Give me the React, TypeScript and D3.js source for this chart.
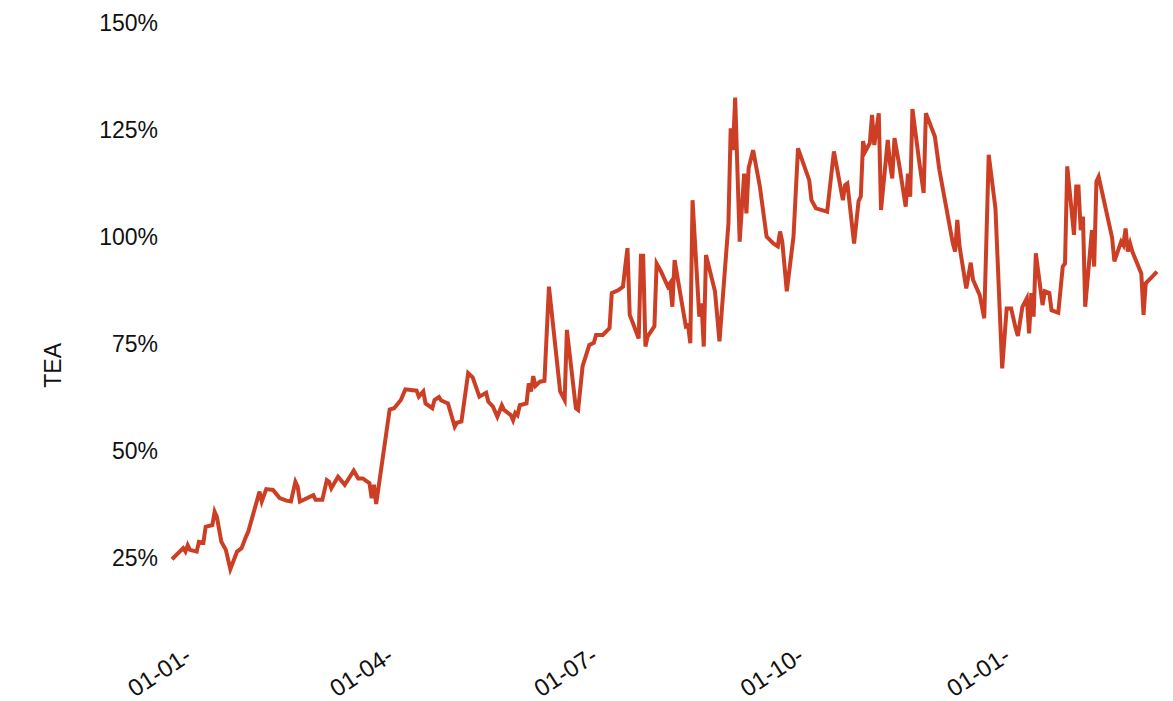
import { useEffect, useRef } from 'react'
import * as d3 from 'd3'

// TEA series
const dates = [
  '2020-12-28', '2021-01-02', '2021-01-03', '2021-01-04', '2021-01-05', '2021-01-08', '2021-01-09', '2021-01-11',
  '2021-01-12', '2021-01-15', '2021-01-16', '2021-01-17', '2021-01-19', '2021-01-21', '2021-01-23', '2021-01-26',
  '2021-01-28', '2021-01-30', '2021-01-31', '2021-02-05', '2021-02-06', '2021-02-08', '2021-02-11', '2021-02-14',
  '2021-02-17', '2021-02-19', '2021-02-21', '2021-02-22', '2021-02-23', '2021-03-01', '2021-03-02', '2021-03-05',
  '2021-03-07', '2021-03-08', '2021-03-09', '2021-03-12', '2021-03-15', '2021-03-19', '2021-03-21', '2021-03-23',
  '2021-03-26', '2021-03-27', '2021-03-28', '2021-03-29', '2021-04-04', '2021-04-06', '2021-04-09', '2021-04-11',
  '2021-04-16', '2021-04-17', '2021-04-19', '2021-04-20', '2021-04-23', '2021-04-24', '2021-04-26', '2021-04-27',
  '2021-04-30', '2021-05-03', '2021-05-04', '2021-05-06', '2021-05-09', '2021-05-11', '2021-05-14', '2021-05-17',
  '2021-05-18', '2021-05-20', '2021-05-22', '2021-05-24', '2021-05-25', '2021-05-28', '2021-05-29', '2021-05-30',
  '2021-05-31', '2021-06-01', '2021-06-04', '2021-06-05', '2021-06-06', '2021-06-07', '2021-06-08', '2021-06-10',
  '2021-06-12', '2021-06-14', '2021-06-19', '2021-06-21', '2021-06-22', '2021-06-26', '2021-06-27', '2021-06-29',
  '2021-07-02', '2021-07-04', '2021-07-05', '2021-07-08', '2021-07-11', '2021-07-12', '2021-07-15', '2021-07-17',
  '2021-07-18', '2021-07-19', '2021-07-20', '2021-07-22', '2021-07-24', '2021-07-25', '2021-07-26', '2021-07-27',
  '2021-07-28', '2021-07-31', '2021-08-01', '2021-08-03', '2021-08-06', '2021-08-07', '2021-08-08', '2021-08-09',
  '2021-08-14', '2021-08-15', '2021-08-16', '2021-08-17', '2021-08-20', '2021-08-21', '2021-08-22', '2021-08-23',
  '2021-08-27', '2021-08-29', '2021-09-02', '2021-09-03', '2021-09-04', '2021-09-05', '2021-09-07', '2021-09-09',
  '2021-09-10', '2021-09-11', '2021-09-13', '2021-09-16', '2021-09-19', '2021-09-22', '2021-09-24', '2021-09-25',
  '2021-09-26', '2021-09-28', '2021-10-01', '2021-10-03', '2021-10-08', '2021-10-09', '2021-10-11', '2021-10-16',
  '2021-10-19', '2021-10-23', '2021-10-24', '2021-10-25', '2021-10-28', '2021-10-30', '2021-10-31', '2021-11-01',
  '2021-11-02', '2021-11-04', '2021-11-05', '2021-11-06', '2021-11-08', '2021-11-09', '2021-11-12', '2021-11-13',
  '2021-11-14', '2021-11-15', '2021-11-17', '2021-11-20', '2021-11-21', '2021-11-22', '2021-11-23', '2021-11-26',
  '2021-11-28', '2021-11-29', '2021-12-03', '2021-12-05', '2021-12-11', '2021-12-12', '2021-12-13', '2021-12-14',
  '2021-12-17', '2021-12-19', '2021-12-20', '2021-12-23', '2021-12-25', '2021-12-27', '2021-12-30', '2022-01-02',
  '2022-01-04', '2022-01-06', '2022-01-08', '2022-01-09', '2022-01-11', '2022-01-13', '2022-01-14', '2022-01-15',
  '2022-01-16', '2022-01-17', '2022-01-20', '2022-01-21', '2022-01-23', '2022-01-24', '2022-01-27', '2022-01-29',
  '2022-01-30', '2022-01-31', '2022-02-03', '2022-02-04', '2022-02-05', '2022-02-06', '2022-02-07', '2022-02-08',
  '2022-02-11', '2022-02-12', '2022-02-13', '2022-02-14', '2022-02-20', '2022-02-21', '2022-02-24', '2022-02-25',
  '2022-02-26', '2022-02-27', '2022-02-28', '2022-03-01', '2022-03-05', '2022-03-06', '2022-03-07', '2022-03-10',
  '2022-03-12',
]

const teaValues = [
  24.7, 27.3, 26.5, 28.0, 26.9, 26.5, 28.8, 28.6,
  32.3, 32.7, 35.8, 34.6, 28.8, 26.9, 22.4, 26.5,
  27.3, 30.0, 31.2, 40.5, 38.2, 41.1, 40.9, 39.0,
  38.4, 38.2, 42.8, 41.7, 38.2, 39.7, 38.6, 38.6,
  43.2, 42.8, 41.3, 44.0, 42.1, 45.4, 43.6, 43.6,
  42.5, 39.0, 42.1, 37.6, 59.7, 60.0, 61.9, 64.4,
  64.1, 62.7, 63.9, 61.1, 60.0, 61.9, 62.6, 61.8,
  61.1, 55.7, 56.6, 56.9, 68.2, 67.2, 62.7, 63.6,
  61.5, 60.4, 58.0, 60.7, 59.6, 58.4, 57.2, 58.9,
  58.4, 60.7, 61.1, 65.8, 63.9, 67.5, 65.2, 66.2,
  66.4, 88.4, 63.9, 61.9, 78.3, 60.0, 59.6, 69.8,
  74.8, 75.3, 77.1, 77.1, 78.7, 86.9, 87.6, 88.4,
  93.1, 97.4, 81.8, 79.1, 76.3, 95.6, 95.6, 74.4,
  76.8, 79.1, 93.8, 91.9, 88.4, 89.2, 83.7, 94.6,
  79.1, 79.4, 75.2, 108.6, 81.4, 84.5, 74.4, 95.8,
  87.3, 75.6, 103.2, 125.4, 120.3, 132.6, 98.9, 114.8,
  105.5, 116.1, 120.3, 111.8, 100.1, 98.5, 97.8, 101.3,
  98.9, 87.3, 100.1, 120.7, 113.3, 108.6, 106.7, 105.9,
  120.0, 108.6, 112.1, 112.5, 98.5, 108.4, 109.5, 122.4,
  120.0, 121.9, 128.5, 121.5, 128.9, 106.3, 122.7, 117.2,
  113.7, 123.1, 117.2, 107.1, 114.8, 109.4, 129.9, 117.7,
  110.3, 128.9, 123.5, 115.7, 98.5, 96.6, 104.0, 97.8,
  88.0, 94.0, 90.0, 86.4, 81.0, 119.2, 106.7, 69.3,
  83.3, 83.3, 78.7, 76.9, 83.7, 85.7, 77.5, 86.9,
  81.4, 96.2, 84.1, 87.3, 86.9, 82.9, 82.3, 93.1,
  93.8, 116.5, 100.5, 111.8, 111.8, 101.6, 104.8, 83.7,
  101.6, 93.1, 113.0, 114.1, 99.8, 94.3, 98.9, 98.1,
  102.0, 96.6, 98.5, 96.6, 91.5, 81.8, 89.2, 90.8,
  91.9,
]

const yTicks = [25, 50, 75, 100, 125, 150]
const xTicks = ['2021-01-01', '2021-04-01', '2021-07-01', '2021-10-01', '2022-01-01']
const yLabel = 'TEA'

export default function App() {
  const ref = useRef<SVGSVGElement>(null)

  useEffect(() => {
    document.body.style.margin = '0'
    const svg = d3.select(ref.current)
    svg.selectAll('*').remove()

    const parse = d3.timeParse('%Y-%m-%d')
    const data = dates.map((d, i) => ({ date: parse(d) as Date, value: teaValues[i] }))

    const x = d3.scaleTime()
      .domain(d3.extent(data, d => d.date) as [Date, Date])
      .range([172, 1157])

    const y = d3.scaleLinear()
      .domain([25, 150])
      .range([558, 23])

    const font = '"Liberation Sans", Arial, sans-serif'

    // y tick labels
    svg.append('g')
      .selectAll('text')
      .data(yTicks)
      .enter().append('text')
      .attr('x', 158)
      .attr('y', d => y(d))
      .attr('dy', '0.35em')
      .attr('text-anchor', 'end')
      .attr('font-family', font)
      .attr('font-size', 23)
      .attr('fill', '#111')
      .text(d => `${d}%`)

    // y axis title
    svg.append('text')
      .attr('transform', `translate(61,${y(70)}) rotate(-90)`)
      .attr('text-anchor', 'middle')
      .attr('font-family', font)
      .attr('font-size', 23)
      .attr('fill', '#111')
      .text(yLabel)

    // x tick labels, rotated
    const fmt = d3.timeFormat('%d-%m-')
    svg.append('g')
      .selectAll('text')
      .data(xTicks.map(t => parse(t) as Date))
      .enter().append('text')
      .attr('transform', d => `translate(${x(d) + 12},660) rotate(-33)`)
      .attr('text-anchor', 'end')
      .attr('font-family', font)
      .attr('font-size', 24)
      .attr('fill', '#111')
      .text(d => fmt(d))

    const line = d3.line<{ date: Date; value: number }>()
      .x(d => x(d.date))
      .y(d => y(d.value))

    svg.append('path')
      .datum(data)
      .attr('fill', 'none')
      .attr('stroke', '#cc3f24')
      .attr('stroke-width', 4)
      .attr('stroke-linejoin', 'miter')
      .attr('d', line)
  }, [])

  return (
    <svg ref={ref} width={1173} height={701} style={{ display: 'block', background: '#fff' }} />
  )
}
